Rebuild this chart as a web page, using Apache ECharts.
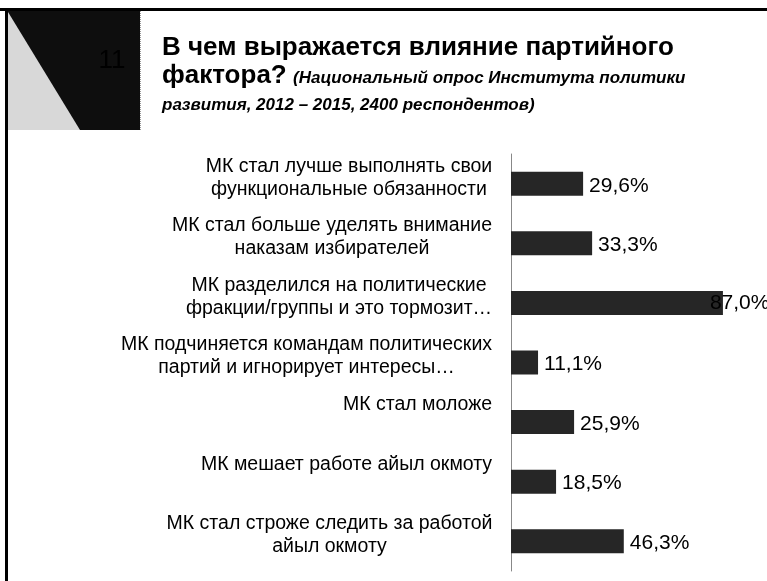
<!DOCTYPE html>
<html>
<head>
<meta charset="utf-8">
<script src="https://cdn.jsdelivr.net/npm/echarts@6/dist/echarts.min.js"></script>
<style>
html,body{margin:0;padding:0;background:#fff;}
#chart{width:767px;height:581px;}
</style>
</head>
<body>
<div id="chart"></div>
<script>
const categories = [
  'МК стал лучше выполнять свои\nфункциональные обязанности',
  'МК стал больше уделять внимание\nнаказам избирателей',
  'МК разделился на политические\nфракции/группы и это тормозит…',
  'МК подчиняется командам политических\nпартий и игнорирует интересы…',
  'МК стал моложе',
  'МК мешает работе айыл окмоту',
  'МК стал строже следить за работой\nайыл окмоту'
];
const values = [29.6, 33.3, 87.0, 11.1, 25.9, 18.5, 46.3];
const titleLine1 = 'В чем выражается влияние партийного';
const titleLine2 = 'фактора?';
const subtitle1 = '(Национальный опрос Института политики';
const subtitle2 = 'развития, 2012 – 2015, 2400 респондентов)';
const slideNumber = '11';

const FONT = 'Liberation Sans, Arial, sans-serif';
const LABEL_SIZE = 19.5;
const VALUE_SIZE = 21;

// measure label lines so multi-line labels are centred against each other
const cv = document.createElement('canvas').getContext('2d');
cv.font = LABEL_SIZE + 'px ' + FONT;
const rich = {};
categories.forEach((c, i) => {
  const w = Math.max(...c.split('\n').map(s => cv.measureText(s).width));
  rich['c' + i] = {width: Math.ceil(w) + 1, align: 'center', fontSize: LABEL_SIZE, lineHeight: 23, color: '#000', fontFamily: FONT};
});

const chart = echarts.init(document.getElementById('chart'));
chart.setOption({
  backgroundColor: '#fff',
  animation: false,
  grid: {left: 511, top: 154, width: 243.6, height: 417, containLabel: false},
  xAxis: {type: 'value', min: 0, max: 100, show: false},
  yAxis: {
    type: 'category',
    data: categories,
    inverse: true,
    axisLine: {show: true, lineStyle: {color: '#888', width: 1}},
    axisTick: {show: false},
    axisLabel: {
      margin: 18,
      padding: [0, 0, 12, 0],
      formatter: (v) => {
        const i = categories.indexOf(v);
        const lines = v.split('\n');
        if (lines.length < 2) lines.push('\u00a0');
        return lines.map(s => '{c' + i + '|' + s + '}').join('\n');
      },
      rich: rich
    }
  },
  series: [{
    type: 'bar',
    barWidth: 24,
    data: values.map((v, i) => i === 2
      ? {value: v, label: {offset: [-19, 0]}}
      : v),
    itemStyle: {color: '#262626'},
    label: {
      show: true,
      position: 'right',
      distance: 6,
      fontSize: VALUE_SIZE,
      fontFamily: FONT,
      color: '#000',
      offset: [0, 2],
      formatter: (p) => p.value.toFixed(1).replace('.', ',') + '%'
    }
  }],
  graphic: [
    {type: 'rect', shape: {x: 0, y: 8, width: 767, height: 3}, style: {fill: '#000'}},
    {type: 'rect', shape: {x: 5, y: 8, width: 3, height: 573}, style: {fill: '#000'}},
    {type: 'rect', shape: {x: 8, y: 11, width: 132, height: 119}, style: {fill: '#0e0e0e'}},
    {type: 'polygon', shape: {points: [[8, 12], [8, 130], [80, 130]]}, style: {fill: '#d8d8d8'}},
    {type: 'line', shape: {x1: 140.5, y1: 11, x2: 140.5, y2: 130}, style: {stroke: '#999', lineWidth: 1, lineDash: [1, 1]}},
    {type: 'text', x: 112, y: 61, style: {text: slideNumber, font: '26px ' + FONT, fill: '#000', textAlign: 'center', textVerticalAlign: 'middle'}},
    {type: 'text', x: 162, y: 60.5, style: {text: titleLine1, font: 'bold 26px ' + FONT, fill: '#000', textVerticalAlign: 'bottom'}},
    {type: 'text', x: 162, y: 88.5, style: {text: titleLine2, font: 'bold 26px ' + FONT, fill: '#000', textVerticalAlign: 'bottom'}},
    {type: 'text', x: 293, y: 87, style: {text: subtitle1, font: 'italic bold 17px ' + FONT, fill: '#000', textVerticalAlign: 'bottom'}},
    {type: 'text', x: 162, y: 113.5, style: {text: subtitle2, font: 'italic bold 17px ' + FONT, fill: '#000', textVerticalAlign: 'bottom'}}
  ]
});
</script>
</body>
</html>
